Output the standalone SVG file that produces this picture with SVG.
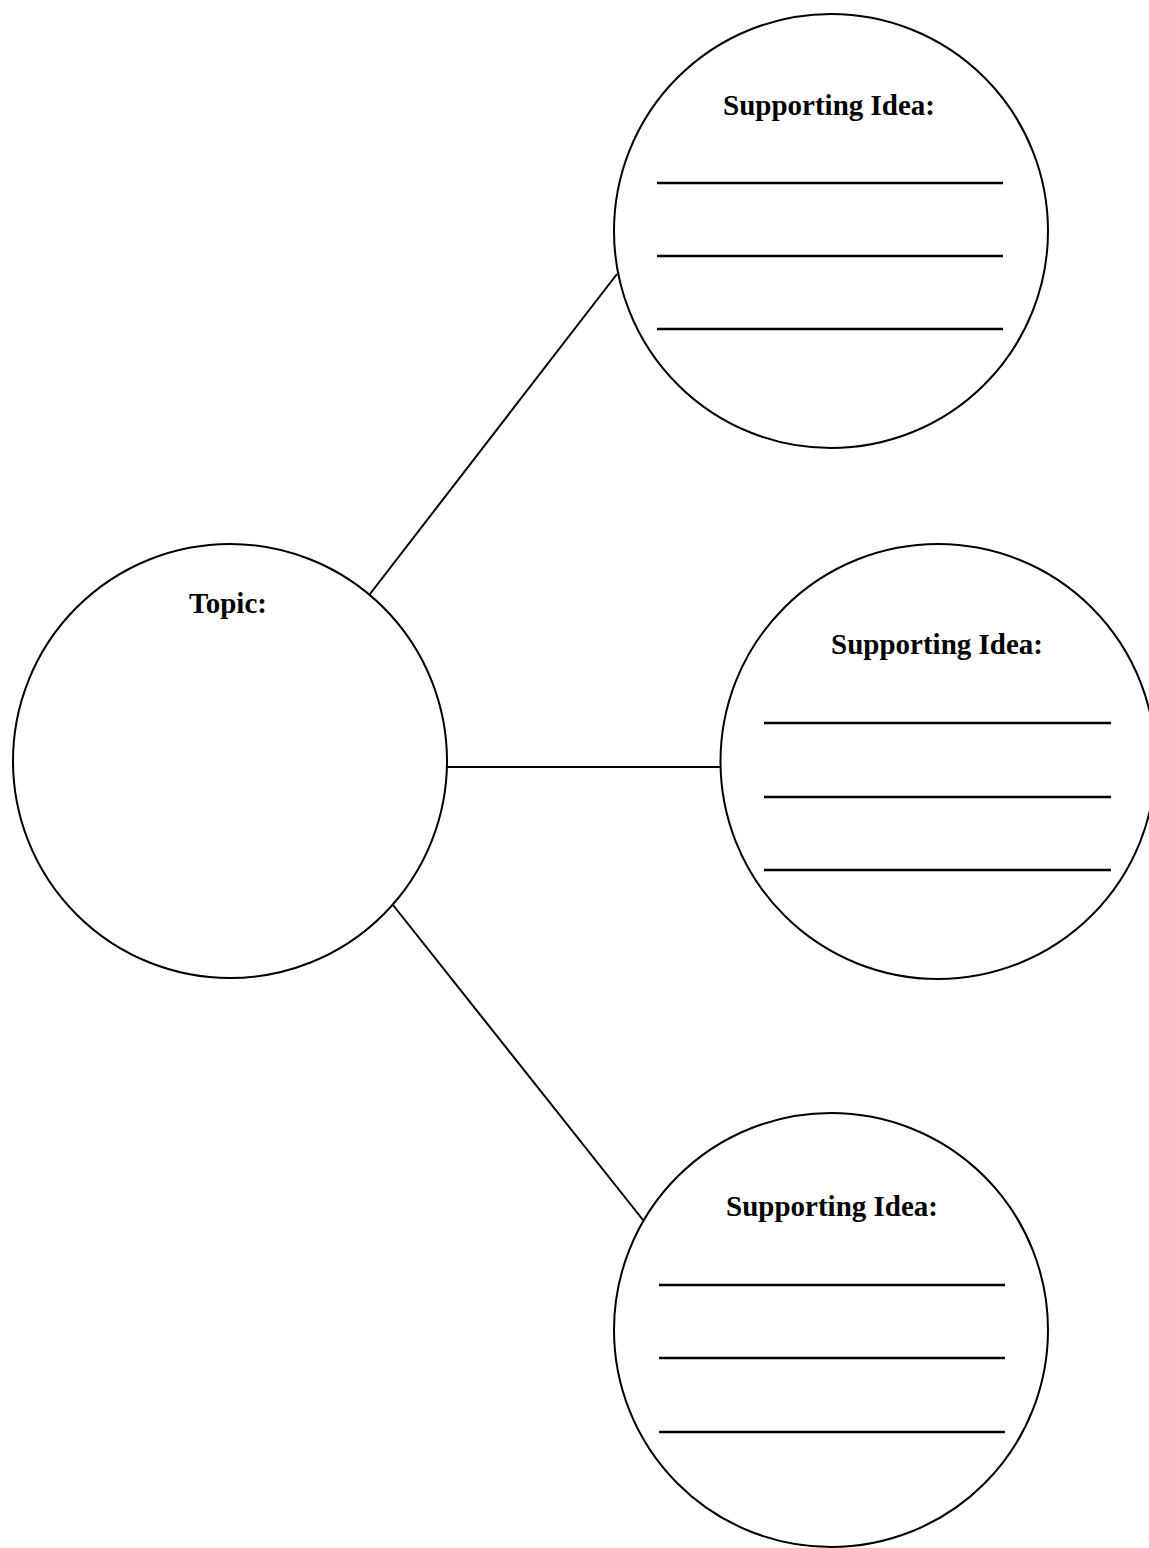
<svg xmlns="http://www.w3.org/2000/svg" width="1149" height="1548" viewBox="0 0 1149 1548">
<style>
.node { fill: #ffffff; stroke: #000000; stroke-width: 2; }
.conn { stroke: #000000; stroke-width: 2; fill: none; }
.rule { stroke: #000000; stroke-width: 2.5; }
.lbl { font-family: "Liberation Serif", "Times New Roman", serif; font-weight: bold; font-size: 29px; fill: #000000; text-anchor: middle; }
</style>
<rect width="1149" height="1548" fill="#ffffff"/>
<g id="connectors">
<line class="conn" x1="370" y1="594" x2="617" y2="274"/>
<line class="conn" x1="447" y1="767" x2="721" y2="767"/>
<line class="conn" x1="393" y1="905" x2="643" y2="1220"/>
</g>
<g id="topic">
<circle class="node" cx="230" cy="761" r="217"/>
<text class="lbl" x="228" y="613">Topic:</text>
</g>
<g id="idea-top">
<circle class="node" cx="831" cy="231" r="217"/>
<text class="lbl" x="829" y="115">Supporting Idea:</text>
<line class="rule" x1="657" y1="183" x2="1003" y2="183"/>
<line class="rule" x1="657" y1="256" x2="1003" y2="256"/>
<line class="rule" x1="657" y1="329" x2="1003" y2="329"/>
</g>
<g id="idea-middle">
<circle class="node" cx="938" cy="761.5" r="217.5"/>
<text class="lbl" x="937" y="654">Supporting Idea:</text>
<line class="rule" x1="764" y1="723" x2="1111" y2="723"/>
<line class="rule" x1="764" y1="797" x2="1111" y2="797"/>
<line class="rule" x1="764" y1="870" x2="1111" y2="870"/>
</g>
<g id="idea-bottom">
<circle class="node" cx="831" cy="1330" r="217"/>
<text class="lbl" x="832" y="1216">Supporting Idea:</text>
<line class="rule" x1="659" y1="1285" x2="1005" y2="1285"/>
<line class="rule" x1="659" y1="1358" x2="1005" y2="1358"/>
<line class="rule" x1="659" y1="1432" x2="1005" y2="1432"/>
</g>
</svg>
